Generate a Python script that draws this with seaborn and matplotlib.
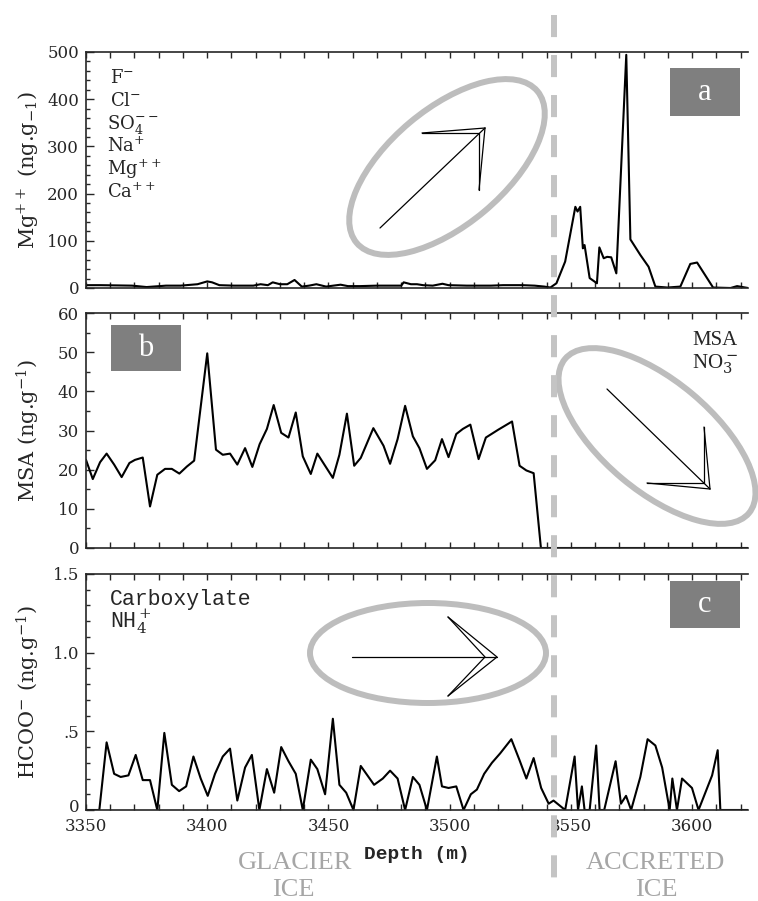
import matplotlib
matplotlib.use('Agg')
import pandas as pd
import matplotlib.pyplot as plt
import matplotlib.transforms as mtransforms
import seaborn as sns
from matplotlib.lines import Line2D
from matplotlib.patches import Ellipse, Rectangle
from matplotlib.ticker import MultipleLocator


# panel a : Mg++ (glacier ice, then accreted ice)
mg_depth = [3350, 3356, 3369, 3375, 3383, 3389, 3396, 3400, 3402, 3405,
            3411, 3419, 3422, 3425, 3427, 3430, 3433, 3436, 3439, 3442,
            3445, 3449, 3452, 3455, 3458, 3463, 3470, 3480, 3481, 3484,
            3486.5, 3489, 3493, 3497, 3499.5, 3507, 3517, 3522, 3530, 3535,
            3539, 3541.5, 3544, 3547.6, 3551.8, 3552.7, 3553.8, 3554.9, 3555.6, 3557.7,
            3560.7, 3561.7, 3563.5, 3564.9, 3566.6, 3568.7, 3572.8, 3574.5, 3578.6, 3582,
            3584.8, 3589.8, 3595.1, 3599.2, 3602, 3608.6, 3615.8, 3618.5, 3623]
mg_value = [6, 6, 5, 2, 5, 5, 8, 14, 12, 6,
            5, 5, 8, 6, 12, 8, 8, 17, 3, 5,
            8, 3, 5, 7, 4, 4, 5, 5, 12, 8,
            8, 6, 5, 9, 6, 5, 5, 6, 6, 5,
            3, 1, 10, 56, 172, 162, 172, 84, 91, 21,
            10, 86, 63, 66, 65, 31, 494, 103, 70, 45,
            3, 1, 3, 51, 54, 1, 0, 4, 0]

# panel b : MSA
msa_depth = [3350, 3352.8, 3355.8, 3358.5, 3361.6, 3364.7, 3367.9, 3370.2, 3373.4, 3376.4,
             3379.4, 3382.6, 3385.4, 3388.5, 3391.6, 3394.6, 3396.5, 3400, 3403.6, 3406.4,
             3409.4, 3412.4, 3415.6, 3418.6, 3421.6, 3424.6, 3427.4, 3430.5, 3433.5, 3436.5,
             3439.4, 3442.7, 3445.4, 3448.6, 3451.8, 3454.5, 3457.6, 3460.6, 3463.3, 3468.5,
             3472.7, 3475.4, 3478.5, 3481.6, 3484.8, 3487.5, 3490.6, 3494, 3496.8, 3499.5,
             3502.7, 3505.4, 3508.5, 3511.9, 3514.9, 3520, 3525.7, 3528.8, 3531.6, 3534.6,
             3537.6, 3560, 3590, 3623]
msa_value = [22.5, 17.6, 21.9, 24.1, 21.3, 18.1, 21.7, 22.5, 23.1, 10.6,
             18.7, 20.2, 20.2, 19.0, 20.8, 22.3, 32, 49.7, 25.1, 23.8,
             24.1, 21.3, 25.5, 20.7, 26.5, 30.4, 36.5, 29.4, 28.2, 34.6,
             23.4, 18.9, 24.1, 21.0, 17.9, 23.8, 34.3, 21.0, 23.0, 30.6,
             26.1, 21.5, 27.8, 36.3, 28.5, 25.5, 20.2, 22.4, 27.8, 23.2,
             29.1, 30.4, 31.5, 22.7, 28.2, 30.2, 32.3, 21.0, 19.8, 19.1,
             0, 0, 0, 0]

# panel c : HCOO-
hcoo_depth = [3350, 3355.5, 3358.5, 3361.6, 3364.3, 3367.5, 3370.5, 3373.4, 3376.4, 3379.4,
              3382.3, 3385.4, 3388.4, 3391.3, 3394.3, 3397.3, 3400.2, 3403.2, 3406.4, 3409.4,
              3412.4, 3415.6, 3418.4, 3421.5, 3424.6, 3427.6, 3430.5, 3433.5, 3436.5, 3439.4,
              3442.7, 3445.4, 3448.6, 3451.8, 3454.5, 3457.3, 3460.3, 3463.3, 3468.8, 3472.4,
              3475.4, 3478.5, 3481.6, 3484.8, 3487.5, 3490.6, 3494.7, 3496.8, 3499.5, 3502.7,
              3505.7, 3508.7, 3511.2, 3514.2, 3517.4, 3520.8, 3525.4, 3528.7, 3531.6, 3534.6,
              3537.7, 3540.8, 3542.8, 3547.6, 3551.5, 3552.9, 3554.5, 3555.6, 3557.7, 3560.4,
              3561.8, 3563.7, 3568.4, 3570.6, 3572.7, 3574.8, 3578.6, 3581.6, 3584.8, 3587.6,
              3590.7, 3591.8, 3593.7, 3595.8, 3599.9, 3602.6, 3608.2, 3610.5, 3611.6, 3623]
hcoo_value = [0, 0, 0.43, 0.23, 0.21, 0.22, 0.35, 0.19, 0.19, 0,
              0.49, 0.16, 0.12, 0.15, 0.34, 0.20, 0.09, 0.23, 0.34, 0.39,
              0.06, 0.27, 0.35, 0, 0.26, 0.11, 0.40, 0.31, 0.23, 0,
              0.32, 0.26, 0.10, 0.58, 0.16, 0.11, 0, 0.28, 0.16, 0.20,
              0.25, 0.20, 0, 0.21, 0.16, 0, 0.34, 0.15, 0.14, 0.15,
              0, 0.10, 0.13, 0.23, 0.30, 0.36, 0.45, 0.32, 0.20, 0.33,
              0.14, 0.04, 0.06, 0, 0.34, 0, 0.15, 0, 0, 0.41,
              0, 0, 0.31, 0.04, 0.09, 0, 0.21, 0.45, 0.41, 0.27,
              0, 0.20, 0, 0.20, 0.14, 0, 0.22, 0.38, 0, 0]

x_ticks = [3350, 3400, 3450, 3500, 3550, 3600]
ticks_a = [0, 100, 200, 300, 400, 500]
ticks_b = [0, 10, 20, 30, 40, 50, 60]
ticks_c = [0, 0.5, 1.0, 1.5]
ticklabels_c = ['0', '.5', '1.0', '1.5']
ions_a = [r'F$^{-}$', r'Cl$^{-}$', r'SO$_4^{--}$', r'Na$^{+}$', r'Mg$^{++}$', r'Ca$^{++}$']
boundary_depth = 3543

W, H = 758, 901
GREY_TXT = '#a6a6a6'
GREY_LINE = '#bdbdbd'
BOX = '#7f7f7f'

sns.set_style('ticks')
plt.rcParams['font.family'] = ['DejaVu Serif']
plt.rcParams['mathtext.fontset'] = 'dejavuserif'
plt.rcParams['axes.linewidth'] = 1.2

fig = plt.figure(figsize=(W / 100, H / 100), dpi=100)
inch = fig.dpi_scale_trans


def pix(x, y):
    '''pixel (from top-left) -> inches for dpi_scale_trans'''
    return x / 100, (H - y) / 100


def add_panel(top, bottom, depth, value, ymax, yticks, ylabel, minor):
    ax = fig.add_axes([86 / W, 1 - bottom / H, 662 / W, (bottom - top) / H])
    df = pd.DataFrame({'depth': depth, 'value': value})
    sns.lineplot(data=df, x='depth', y='value', ax=ax, color='black',
                 linewidth=1.5, sort=False, estimator=None)
    ax.set_xlim(3350, 3623)
    ax.set_ylim(0, ymax)
    ax.set_xticks(x_ticks)
    ax.set_yticks(yticks)
    ax.xaxis.set_minor_locator(MultipleLocator(10))
    ax.yaxis.set_minor_locator(MultipleLocator(minor))
    ax.spines['right'].set_visible(False)
    ax.tick_params(which='both', direction='in', top=True, right=False,
                   labelsize=12, width=1.0, pad=5)
    ax.tick_params(axis='x', which='both', length=4, pad=6)
    ax.tick_params(axis='y', which='major', length=6)
    ax.tick_params(axis='y', which='minor', length=3)
    ax.set_xlabel('')
    ax.set_ylabel(ylabel, fontsize=15, va='center')
    ax.yaxis.set_label_coords(-58 / 662, 0.5)
    return ax


ax_a = add_panel(52, 288, mg_depth, mg_value, 500, ticks_a,
                 r'Mg$^{++}$ (ng.g$_{-1}$)', 20)
ax_b = add_panel(313, 548, msa_depth, msa_value, 60, ticks_b,
                 r'MSA (ng.g$^{-1}$)', 5)
ax_c = add_panel(574, 810, hcoo_depth, hcoo_value, 1.5, ticks_c,
                 r'HCOO$^{-}$ (ng.g$^{-1}$)', 0.1)
ax_c.set_yticklabels(ticklabels_c)
for ax in (ax_a, ax_b):
    ax.tick_params(axis='x', labelbottom=False)
ax_c.set_xlabel('Depth (m)', family='Liberation Mono', fontweight='bold',
                fontsize=14, labelpad=8)

# lift the bottom "0" of panel c a little so it clears "3350"
zero_lab = ax_c.yaxis.get_major_ticks()[0].label1
zero_lab.set_transform(zero_lab.get_transform()
                       + mtransforms.ScaledTranslation(0, 4 / 100, inch))

# ion lists / species names
for i, lab in enumerate(ions_a):
    x0 = 110 if i < 2 else 107
    fig.text(x0 / W, 1 - (83 + 23 * i) / H, lab, fontsize=13, va='baseline')
fig.text(110 / W, 1 - 605 / H, 'Carboxylate', family='Liberation Mono',
         fontsize=15.5, va='baseline')
fig.text(110 / W, 1 - 628 / H, r'NH$_4^+$', family='Liberation Mono',
         fontsize=15.5, va='baseline')
fig.text(738 / W, 1 - 345 / H, 'MSA', family='Liberation Serif',
         fontsize=15, ha='right', va='baseline')
fig.text(738 / W, 1 - 368 / H, r'NO$_3^-$', family='Liberation Serif',
         fontsize=15, ha='right', va='baseline')

# panel letter boxes
for (x1, y1, x2, y2), letter in [((670, 68, 740, 116), 'a'),
                                 ((111, 325, 181, 371), 'b'),
                                 ((670, 581, 740, 628), 'c')]:
    fig.add_artist(Rectangle(pix(x1, y2), (x2 - x1) / 100, (y2 - y1) / 100,
                             transform=inch, fc=BOX, ec='none'))
    fig.text((x1 + x2) / 2 / W, 1 - (y1 + y2) / 2 / H, letter, color='white',
             family='Liberation Serif', fontsize=22, ha='center', va='center')

# trend ellipses
for (cx, cy), w, h, ang in [((447, 167), 236, 116, 40),
                            ((657, 436), 240, 110, -40),
                            ((428, 653), 236, 100, 0)]:
    fig.add_artist(Ellipse(pix(cx, cy), w / 100, h / 100, angle=ang,
                           transform=inch, fill=False, ec=GREY_LINE, lw=4.3))

# trend arrows (thin open heads)
arrows = [
    [(380, 228), (485, 128)], [(422, 133), (485, 128)],
    [(422, 133), (479, 133), (479, 190)], [(479, 190), (485, 128)],
    [(607, 389), (710, 489)], [(704, 427), (710, 489)],
    [(704, 427), (704, 483), (647, 483)], [(647, 483), (710, 489)],
    [(352, 657), (497, 657)], [(448, 617), (497, 657), (448, 696)],
    [(448, 617), (485, 657), (448, 696)],
]
for pts in arrows:
    xs, ys = zip(*[pix(x, y) for x, y in pts])
    fig.add_artist(Line2D(xs, ys, transform=inch, color='black', lw=0.9))

# glacier / accreted ice boundary
blend = mtransforms.blended_transform_factory(ax_c.transData, fig.transFigure)
fig.add_artist(Line2D([boundary_depth, boundary_depth], [1 - 15 / H, 1 - 890 / H],
                      transform=blend, color='#c4c4c4', lw=4.3,
                      linestyle=(0, (3.7, 3.0)), solid_capstyle='butt'))

for x, y, s in [(295, 863, 'GLACIER'), (293, 890, 'ICE'),
                (655, 863, 'ACCRETED'), (656, 890, 'ICE')]:
    fig.text(x / W, 1 - y / H, s, color=GREY_TXT, family='Liberation Serif',
             fontsize=19, ha='center', va='center')

fig.savefig('out.png', dpi=100)
